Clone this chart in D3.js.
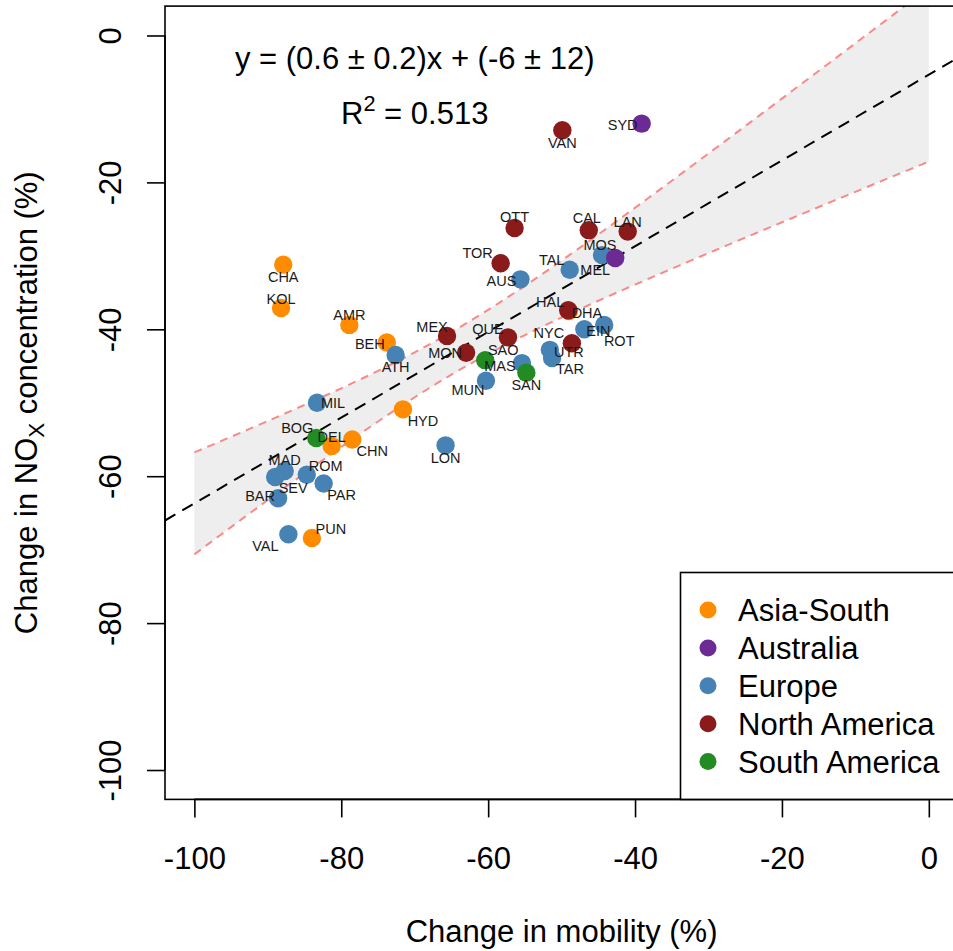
<!DOCTYPE html>
<html>
<head>
<meta charset="utf-8">
<script src="https://cdn.jsdelivr.net/npm/d3@7"></script>
<style>
  html, body { margin: 0; padding: 0; background: #fff; }
  svg { display: block; font-family: "Liberation Sans", Arial, sans-serif; }
</style>
</head>
<body>
<svg id="chart" width="953" height="951"></svg>
<script>
// ---------------- data ----------------
const regionNames = ["Asia-South", "Australia", "Europe", "North America", "South America"];
const regionColors = ["#FF8C00", "#6B2A94", "#4682B4", "#8B1A1A", "#228B22"];

const cityCodes = [
  "CHA","KOL","AMR","BEH","HYD","DEL","CHN","PUN","DHA",
  "MOS","AUS","TAL","EIN","ROT","UTR","TAR","MAS","MUN","ATH","MIL","LON","MAD","SEV","BAR","ROM","PAR","VAL",
  "SYD","MEL",
  "VAN","OTT","CAL","LAN","TOR","HAL","MEX","MON","QUE","NYC",
  "SAO","SAN","BOG"
];
const cityRegion = [
  "Asia-South","Asia-South","Asia-South","Asia-South","Asia-South","Asia-South","Asia-South","Asia-South","Asia-South",
  "Europe","Europe","Europe","Europe","Europe","Europe","Europe","Europe","Europe","Europe","Europe","Europe","Europe","Europe","Europe","Europe","Europe","Europe",
  "Australia","Australia",
  "North America","North America","North America","North America","North America","North America","North America","North America","North America","North America",
  "South America","South America","South America"
];
const mobilityChange = [
  -87.9,-88.2,-78.9,-73.8,-71.6,-81.3,-78.5,-84.0,-49.0,
  -44.5,-55.6,-48.9,-46.9,-44.2,-51.6,-51.3,-55.4,-60.3,-72.6,-83.3,-65.8,-87.7,-89.0,-88.6,-84.7,-82.4,-87.2,
  -39.1,-42.7,
  -49.9,-56.4,-46.3,-41.0,-58.3,-49.1,-65.6,-63.0,-57.3,-48.6,
  -60.4,-54.8,-83.4
];
const noxChange = [
  -31.2,-37.1,-39.4,-41.8,-50.9,-55.9,-55.0,-68.4,-37.5,
  -29.9,-33.2,-31.9,-40.0,-39.4,-42.8,-43.9,-44.6,-47.0,-43.5,-50.0,-55.8,-59.3,-60.1,-63.0,-59.8,-61.0,-67.9,
  -12.0,-30.3,
  -12.9,-26.2,-26.5,-26.7,-31.0,-37.4,-40.9,-43.2,-41.1,-41.9,
  -44.2,-45.9,-54.8
];
const xTicks = [-100, -80, -60, -40, -20, 0];
const yTicks = [0, -20, -40, -60, -80, -100];
const equationText = "y = (0.6 \u00B1 0.2)x + (-6 \u00B1 12)";
const r2Value = "0.513";

// ---------------- layout (not data) ----------------
// label placement: offset of label centre from point centre, px
const labelOffsets = {
  CHA:[0,12], KOL:[0,-9], AMR:[0,-10], BEH:[-17,1], HYD:[20,11], DEL:[0,-9], CHN:[20,11], PUN:[19,-9], DHA:[18,2],
  SYD:[-19,1], MEL:[-20,12],
  MOS:[-2,-10], AUS:[-19,1], TAL:[-18,-10], EIN:[14,1], ROT:[15,16], UTR:[19,2], TAR:[18,11], MAS:[-22,3],
  MUN:[-18,9], ATH:[0,12], MIL:[16,0], LON:[0,12], MAD:[0,-11], SEV:[18,11], BAR:[-18,-2], ROM:[19,-9],
  PAR:[18,11], VAL:[-23,12],
  VAN:[0,13], OTT:[0,-11], CAL:[-2,-12], LAN:[0,-10], TOR:[-23,-10], HAL:[-18,-8], MEX:[-15,-9], MON:[-21,0],
  QUE:[-20,-9], NYC:[-23,-10],
  SAO:[18,-10], SAN:[0,12], BOG:[-19,-10]
};

const svg = d3.select("#chart");
const x = d3.scaleLinear().domain([-104, 4]).range([165, 958.2]);
const y = d3.scaleLinear().domain([-104, 4]).range([799.4, 6.1]);
const color = d3.scaleOrdinal().domain(regionNames).range(regionColors);
const FS = 31;
const FONT = "Liberation Sans, Arial, sans-serif";

const pts = cityCodes.map((c, i) => ({ code: c, region: cityRegion[i], mx: mobilityChange[i], ny: noxChange[i] }));

// ---------------- linear fit + 95% confidence band ----------------
const n = pts.length;
const xbar = d3.mean(pts, d => d.mx), ybar = d3.mean(pts, d => d.ny);
const Sxx = d3.sum(pts, d => (d.mx - xbar) ** 2);
const Sxy = d3.sum(pts, d => (d.mx - xbar) * (d.ny - ybar));
const slope = Sxy / Sxx, intercept = ybar - slope * xbar;
const sse = d3.sum(pts, d => (d.ny - (intercept + slope * d.mx)) ** 2);
const s = Math.sqrt(sse / (n - 2));
const tq = 2.021; // t(0.975, df = 40)
const bandX = d3.range(-100, 0.001, 0.5);
const band = bandX.map(v => {
  const fit = intercept + slope * v;
  const h = tq * s * Math.sqrt(1 / n + (v - xbar) ** 2 / Sxx);
  return { v, lo: fit - h, hi: fit + h };
});

// clip to plot region
svg.append("defs").append("clipPath").attr("id", "plotclip")
  .append("rect").attr("x", x(-104)).attr("y", y(4))
  .attr("width", x(4) - x(-104)).attr("height", y(-104) - y(4));

const plot = svg.append("g").attr("clip-path", "url(#plotclip)");

plot.append("path")
  .datum(band)
  .attr("d", d3.area().x(d => x(d.v)).y0(d => y(d.lo)).y1(d => y(d.hi)))
  .attr("fill", "#EEEEEE");

["lo", "hi"].forEach(k => {
  plot.append("path")
    .datum(band)
    .attr("d", d3.line().x(d => x(d.v)).y(d => y(d[k])))
    .attr("fill", "none")
    .attr("stroke", "#F88A8A")
    .attr("stroke-width", 2)
    .attr("stroke-dasharray", "8,6");
});

plot.append("line")
  .attr("x1", x(-104)).attr("y1", y(intercept + slope * -104))
  .attr("x2", x(4)).attr("y2", y(intercept + slope * 4))
  .attr("stroke", "#000").attr("stroke-width", 2).attr("stroke-dasharray", "12,8");

// points
plot.selectAll("circle.pt").data(pts).enter().append("circle")
  .attr("class", "pt")
  .attr("cx", d => x(d.mx)).attr("cy", d => y(d.ny))
  .attr("r", 9.2)
  .attr("fill", d => color(d.region));

// labels
plot.selectAll("text.lab").data(pts).enter().append("text")
  .attr("class", "lab")
  .attr("x", d => x(d.mx) + labelOffsets[d.code][0])
  .attr("y", d => y(d.ny) + labelOffsets[d.code][1])
  .attr("dy", "0.36em")
  .attr("text-anchor", "middle")
  .attr("font-size", 14.5)
  .attr("fill", "#1a1a1a")
  .text(d => d.code);

// equation + R2
svg.append("text")
  .attr("x", x(-70)).attr("y", 69)
  .attr("text-anchor", "middle").attr("font-size", FS)
  .text(equationText);
const r2 = svg.append("text")
  .attr("x", x(-70)).attr("y", 124)
  .attr("text-anchor", "middle").attr("font-size", FS);
r2.append("tspan").text("R");
r2.append("tspan").attr("dy", -13).attr("font-size", FS * 0.7).text("2");
r2.append("tspan").attr("dy", 13).text(" = " + r2Value);

// plot box
svg.append("rect")
  .attr("x", x(-104)).attr("y", y(4))
  .attr("width", x(4) - x(-104)).attr("height", y(-104) - y(4))
  .attr("fill", "none").attr("stroke", "#000").attr("stroke-width", 1.6);

// x axis
const xAxis = svg.append("g").attr("transform", `translate(0,${y(-104)})`)
  .call(d3.axisBottom(x).tickValues(xTicks).tickSize(18).tickPadding(0).tickFormat(d => String(d)));
xAxis.select(".domain").attr("d", `M${x(-100)},0H${x(0)}`).attr("stroke-width", 1.6);
xAxis.selectAll(".tick line").attr("stroke-width", 1.6);
xAxis.selectAll(".tick text")
  .attr("font-size", FS).attr("font-family", FONT)
  .attr("fill", "#000").attr("y", 70).attr("dy", 0);

// y axis
const yAxis = svg.append("g").attr("transform", `translate(${x(-104)},0)`)
  .call(d3.axisLeft(y).tickValues(yTicks).tickSize(18).tickPadding(0).tickFormat(d => String(d)));
yAxis.select(".domain").attr("d", `M0,${y(0)}V${y(-100)}`).attr("stroke-width", 1.6);
yAxis.selectAll(".tick line").attr("stroke-width", 1.6);
yAxis.selectAll(".tick text")
  .attr("font-size", FS).attr("font-family", FONT)
  .attr("fill", "#000")
  .attr("x", null).attr("dy", null)
  .attr("text-anchor", "middle")
  .attr("transform", "translate(-44,0) rotate(-90)")
  .attr("y", 0);

// axis titles
svg.append("text")
  .attr("x", (x(-104) + x(4)) / 2).attr("y", 942)
  .attr("text-anchor", "middle").attr("font-size", FS)
  .text("Change in mobility (%)");

const yt = svg.append("text")
  .attr("transform", `translate(37,${(y(4) + y(-104)) / 2}) rotate(-90)`)
  .attr("text-anchor", "middle").attr("font-size", FS);
yt.append("tspan").text("Change in NO");
yt.append("tspan").attr("dy", 7).attr("font-size", FS * 0.72).text("X");
yt.append("tspan").attr("dy", -7).text(" concentration (%)");

// legend
const lg = svg.append("g");
lg.append("rect")
  .attr("x", 680.5).attr("y", 572.5)
  .attr("width", x(4) - 680.5).attr("height", y(-104) - 572.5)
  .attr("fill", "#fff").attr("stroke", "#000").attr("stroke-width", 1.6);
regionNames.forEach((r, i) => {
  const cy = 610 + i * 37.9;
  lg.append("circle").attr("cx", 708).attr("cy", cy).attr("r", 8.5).attr("fill", regionColors[i]);
  lg.append("text").attr("x", 738).attr("y", cy).attr("dy", "0.36em")
    .attr("font-size", FS).text(r);
});
</script>
</body>
</html>
